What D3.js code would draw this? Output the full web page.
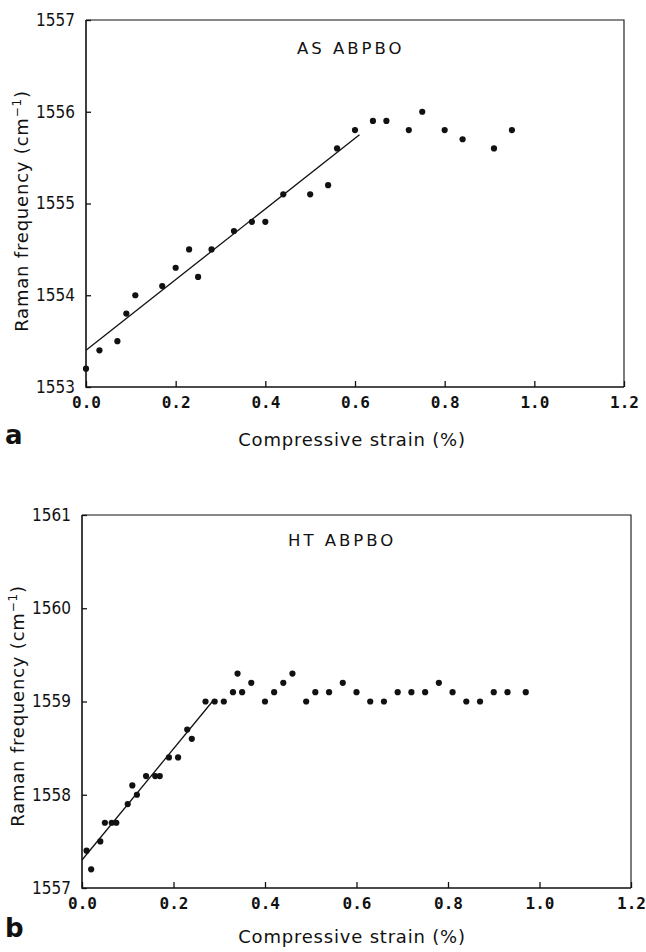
<!DOCTYPE html>
<html>
<head>
<meta charset="utf-8">
<script src="https://cdn.jsdelivr.net/npm/d3@7"></script>
<style>
  body { margin: 0; background: #fff; }
  svg text { fill: #111; }
  .ytick text { font-family: "DejaVu Sans Condensed", "DejaVu Sans", sans-serif; font-size: 17px; }
  .xtick text { font-family: "DejaVu Sans Mono", monospace; font-size: 16px; font-weight: bold; }
  .title { font-family: "DejaVu Sans", sans-serif; font-size: 16.5px; letter-spacing: 3px; }
  .axtitle { font-family: "DejaVu Sans", sans-serif; font-size: 18px; letter-spacing: 0.8px; }
  .panel { font-family: "DejaVu Sans", sans-serif; font-size: 26px; font-weight: bold; }
</style>
</head>
<body>
<div id="chart"></div>
<script>
(function(){

  // x ticks shared by both panels
  var strainTicks = [0, 0.2, 0.4, 0.6, 0.8, 1.0, 1.2];

  // panel a : AS ABPBO
  var strainA = [0.00, 0.03, 0.07, 0.09, 0.11, 0.17, 0.20, 0.23, 0.25, 0.28, 0.33, 0.37, 0.40,
                 0.44, 0.50, 0.54, 0.56, 0.60, 0.64, 0.67, 0.72, 0.75, 0.80, 0.84, 0.91, 0.95];
  var freqA = [1553.2, 1553.4, 1553.5, 1553.8, 1554.0, 1554.1, 1554.3, 1554.5, 1554.2, 1554.5, 1554.7, 1554.8, 1554.8,
               1555.1, 1555.1, 1555.2, 1555.6, 1555.8, 1555.9, 1555.9, 1555.8, 1556.0, 1555.8, 1555.7, 1555.6, 1555.8];
  var fitStrainA = [0, 0.61];
  var fitFreqA = [1553.4, 1555.75];
  var freqTicksA = [1553, 1554, 1555, 1556, 1557];

  // panel b : HT ABPBO
  var strainB = [0.01, 0.02, 0.04, 0.05, 0.065, 0.075, 0.10, 0.11, 0.12, 0.14, 0.16, 0.17, 0.19, 0.21, 0.23,
                 0.24, 0.27, 0.29, 0.31, 0.33, 0.34, 0.35, 0.37, 0.40, 0.42, 0.44, 0.46, 0.49, 0.51, 0.54,
                 0.57, 0.60, 0.63, 0.66, 0.69, 0.72, 0.75, 0.78, 0.81, 0.84, 0.87, 0.90, 0.93, 0.97];
  var freqB = [1557.4, 1557.2, 1557.5, 1557.7, 1557.7, 1557.7, 1557.9, 1558.1, 1558.0, 1558.2, 1558.2, 1558.2, 1558.4, 1558.4, 1558.7,
               1558.6, 1559.0, 1559.0, 1559.0, 1559.1, 1559.3, 1559.1, 1559.2, 1559.0, 1559.1, 1559.2, 1559.3, 1559.0, 1559.1, 1559.1,
               1559.2, 1559.1, 1559.0, 1559.0, 1559.1, 1559.1, 1559.1, 1559.2, 1559.1, 1559.0, 1559.0, 1559.1, 1559.1, 1559.1];
  var fitStrainB = [0, 0.285];
  var fitFreqB = [1557.3, 1559.0];
  var freqTicksB = [1557, 1558, 1559, 1560, 1561];

  var svg = d3.select("#chart")
    .append("svg")
    .attr("width", 646)
    .attr("height", 952);

  function drawPanel(opt){
    var x = d3.scaleLinear().domain([0, 1.2]).range([opt.left, opt.right]);
    var y = d3.scaleLinear().domain([opt.yTicks[0], opt.yTicks[opt.yTicks.length - 1]]).range([opt.bottom, opt.top]);
    var g = svg.append("g");

    // ticks point inwards
    var xAxis = d3.axisBottom(x).tickValues(strainTicks).tickFormat(d3.format(".1f"))
      .tickSizeInner(-6).tickSizeOuter(0).tickPadding(10);
    var yAxis = d3.axisLeft(y).tickValues(opt.yTicks).tickFormat(d3.format("d"))
      .tickSizeInner(-5).tickSizeOuter(0).tickPadding(11);

    var gx = g.append("g").attr("class", "xtick").attr("transform", "translate(0," + opt.bottom + ")").call(xAxis);
    var gy = g.append("g").attr("class", "ytick").attr("transform", "translate(" + opt.left + ",0)").call(yAxis);
    gx.select(".domain").remove();
    gy.select(".domain").remove();
    g.selectAll(".tick line").attr("stroke", "#111").attr("stroke-width", 1.3);
    g.selectAll(".tick text").attr("fill", "#111");

    // frame: heavier on the axes, thin on top and right
    g.append("path")
      .attr("d", "M" + opt.left + "," + opt.top + "V" + opt.bottom + "H" + opt.right)
      .attr("fill", "none").attr("stroke", "#111").attr("stroke-width", 1.6);
    g.append("path")
      .attr("d", "M" + opt.left + "," + opt.top + "H" + opt.right + "V" + opt.bottom)
      .attr("fill", "none").attr("stroke", "#111").attr("stroke-width", 1.1);

    var fit = opt.fitX.map(function(d, i){ return [d, opt.fitY[i]]; });
    g.append("path")
      .datum(fit)
      .attr("d", d3.line().x(function(d){ return x(d[0]); }).y(function(d){ return y(d[1]); }))
      .attr("fill", "none").attr("stroke", "#111").attr("stroke-width", 1.3);

    var pts = opt.xs.map(function(d, i){ return [d, opt.ys[i]]; });
    g.selectAll("circle.pt")
      .data(pts)
      .enter()
      .append("circle")
      .attr("class", "pt")
      .attr("cx", function(d){ return x(d[0]); })
      .attr("cy", function(d){ return y(d[1]); })
      .attr("r", 3.1)
      .attr("fill", "#111");

    g.append("text").attr("class", "title")
      .attr("x", opt.titleX).attr("y", opt.titleY)
      .text(opt.title);

    g.append("text").attr("class", "axtitle")
      .attr("x", 352).attr("y", opt.xTitleY)
      .attr("text-anchor", "middle")
      .text("Compressive strain (%)");

    var yt = g.append("text").attr("class", "axtitle")
      .attr("transform", "translate(" + opt.yTitleX + "," + opt.yTitleMid + ") rotate(-90)")
      .attr("text-anchor", "middle");
    yt.append("tspan").text("Raman frequency (cm");
    yt.append("tspan").attr("dy", -7).attr("font-size", "12px").text("\u22121");
    yt.append("tspan").attr("dy", 7).text(")");

    g.append("text").attr("class", "panel")
      .attr("x", 5).attr("y", opt.panelY)
      .text(opt.panel);
  }

  drawPanel({
    left: 86, right: 624, top: 20, bottom: 387,
    xs: strainA, ys: freqA, fitX: fitStrainA, fitY: fitFreqA, yTicks: freqTicksA,
    title: "AS ABPBO", titleX: 297, titleY: 54,
    xTitleY: 446, yTitleX: 28, yTitleMid: 211,
    panel: "a", panelY: 444
  });

  drawPanel({
    left: 82, right: 631, top: 515, bottom: 888,
    xs: strainB, ys: freqB, fitX: fitStrainB, fitY: fitFreqB, yTicks: freqTicksB,
    title: "HT ABPBO", titleX: 288, titleY: 546,
    xTitleY: 943, yTitleX: 24, yTitleMid: 706,
    panel: "b", panelY: 937
  });

})();
</script>
</body>
</html>
